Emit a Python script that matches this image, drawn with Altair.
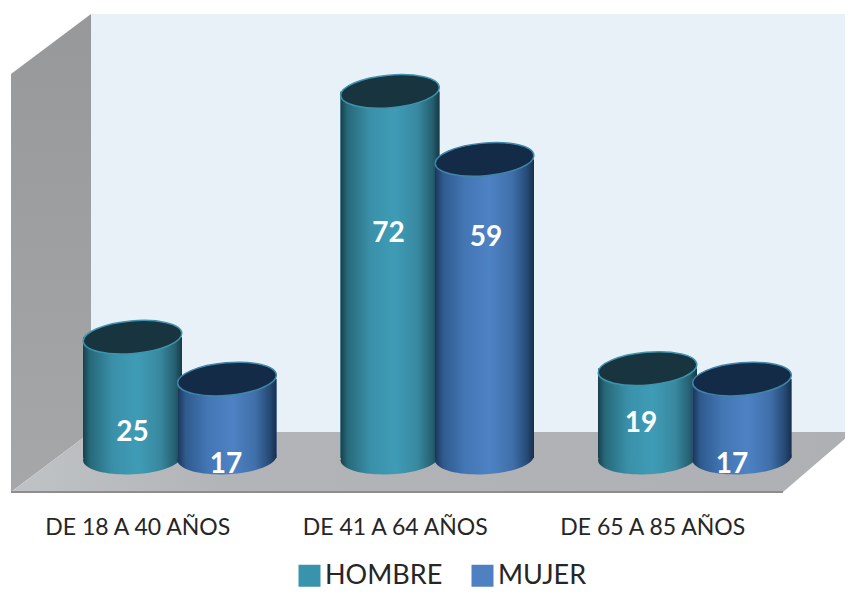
import altair as alt
import pandas as pd

groups = ["DE 18 A 40 AÑOS", "DE 18 A 40 AÑOS", "DE 41 A 64 AÑOS", "DE 41 A 64 AÑOS", "DE 65 A 85 AÑOS", "DE 65 A 85 AÑOS"]
series = ["HOMBRE", "MUJER", "HOMBRE", "MUJER", "HOMBRE", "MUJER"]
values = [25, 17, 72, 59, 19, 17]

df = pd.DataFrame({"grupo": groups, "sexo": series, "valor": values})

FONT = "Lato"
ELLIPSE = "M-1,0 A1,0.33,0,1,1,1,0 A1,0.33,0,1,1,-1,0 Z"


def grad(stops):
    return alt.LinearGradient(gradient="linear", x1=0, x2=1, y1=0, y2=0,
                              stops=[alt.GradientStop(offset=o, color=c) for o, c in stops])


TEAL = grad([(0, "#17404c"), (0.07, "#27697a"), (0.3, "#3a90a9"), (0.55, "#3f9cb6"),
             (0.78, "#38889f"), (0.93, "#255f70"), (1, "#143a45")])
BLUE = grad([(0, "#1a3558"), (0.08, "#2f5a8e"), (0.3, "#4376b4"), (0.55, "#4d82c4"),
             (0.78, "#4070aa"), (0.93, "#264a75"), (1, "#172f4e")])
style = {"HOMBRE": (TEAL, "#17343f", "#3f94ad"), "MUJER": (BLUE, "#142b48", "#3f86a8")}

x_enc = alt.X("grupo:N", title=None,
              scale=alt.Scale(range=[77.25, 781.25], paddingInner=0.266, paddingOuter=0),
              axis=alt.Axis(domain=False, ticks=False, labelAngle=0, labelFont=FONT, labelFontSize=23,
                            labelColor="#262626", labelOffset=-42, offset=-76, labelPadding=0, grid=False,
                            labelLimit=300))
x_off = alt.XOffset("sexo:N", sort=["HOMBRE", "MUJER"])
y_enc = alt.Y("valor:Q", axis=None, stack=None,
              scale=alt.Scale(domain=[0, 72], range=[460, 83.4], nice=False, zero=False))
BASE = alt.value(450)

base = alt.Chart(df)
deco = alt.Chart(pd.DataFrame({"k": [0]}))

back_wall = deco.mark_rect(color="#e8f0f8").encode(
    x=alt.value(83), x2=alt.value(837), y=alt.value(6), y2=alt.value(424))
left_wall = deco.mark_point(
    shape="M3,66 L83,6 L83,424 L3,484 Z", filled=True, opacity=1, size=4,
    color=alt.LinearGradient(gradient="linear", x1=0, x2=0, y1=0, y2=1,
                             stops=[alt.GradientStop(offset=0, color="#97989a"),
                                    alt.GradientStop(offset=1, color="#a6a7a9")])
).encode(x=alt.value(0), y=alt.value(0))
floor = deco.mark_point(
    shape="M83,424 L845,424 L775,484 L3,484 Z", filled=True, opacity=1, size=4,
    color=alt.LinearGradient(gradient="linear", x1=0, x2=1, y1=0, y2=0,
                             stops=[alt.GradientStop(offset=0, color="#c0c3c6"),
                                    alt.GradientStop(offset=0.25, color="#b2b4b7"),
                                    alt.GradientStop(offset=1, color="#aeb0b3")])
).encode(x=alt.value(0), y=alt.value(0))
floor_line = deco.mark_rule(color="#8d8d8d", strokeWidth=2).encode(
    x=alt.value(3), x2=alt.value(775), y=alt.value(484))

layers = [back_wall, left_wall, floor, floor_line]

for s in ["HOMBRE", "MUJER"]:
    g, top, rim = style[s]
    sub = base.transform_filter(alt.datum.sexo == s)
    solid = sub.mark_bar(size=99).encode(
        x=x_enc, xOffset=x_off, y=y_enc, y2=BASE,
        color=alt.Color("sexo:N", scale=alt.Scale(domain=["HOMBRE", "MUJER"], range=["#3a93ad", "#4e80c2"]),
                        legend=alt.Legend(title=None, orient="none", legendX=288, legendY=554, direction="horizontal",
                                          columns=2, symbolType="square", symbolSize=484, symbolStrokeWidth=0,
                                          labelFont=FONT, labelFontSize=27, labelColor="#262626",
                                          labelLimit=200, columnPadding=26, labelOffset=2)))
    grad_bar = sub.mark_bar(size=99, color=g).encode(x=x_enc, xOffset=x_off, y=y_enc, y2=BASE)
    bottom = sub.mark_point(shape=ELLIPSE, filled=True, opacity=1, size=9800, color=g, angle=357).encode(
        x=x_enc, xOffset=x_off, y=alt.value(450))
    cap = sub.mark_point(shape=ELLIPSE, filled=False, opacity=1, size=9800, fill=top, stroke=rim,
                         strokeWidth=1.5, angle=355).encode(x=x_enc, xOffset=x_off, y=y_enc)
    layers += [bottom, solid, grad_bar, cap]

nudges = [(0, 96), (-1, 86), (-1.5, 143), (1.5, 79), (-6.5, 55), (-10, 86)]
for i, (dx, dy) in enumerate(nudges):
    row = df.iloc[[i]]
    layers.append(alt.Chart(row).mark_text(font=FONT, fontSize=28, fontWeight="bold", color="white",
                                           baseline="middle", dx=dx, dy=dy).encode(
        x=x_enc, xOffset=x_off, y=y_enc, text="valor:Q"))

chart = alt.layer(*layers).properties(
    width=837, height=584, padding=0, autosize=alt.AutoSizeParams(type="none"),
    background="white"
).configure_view(stroke=None)

chart.save("out.html", embed_options={"renderer": "svg", "actions": False})
